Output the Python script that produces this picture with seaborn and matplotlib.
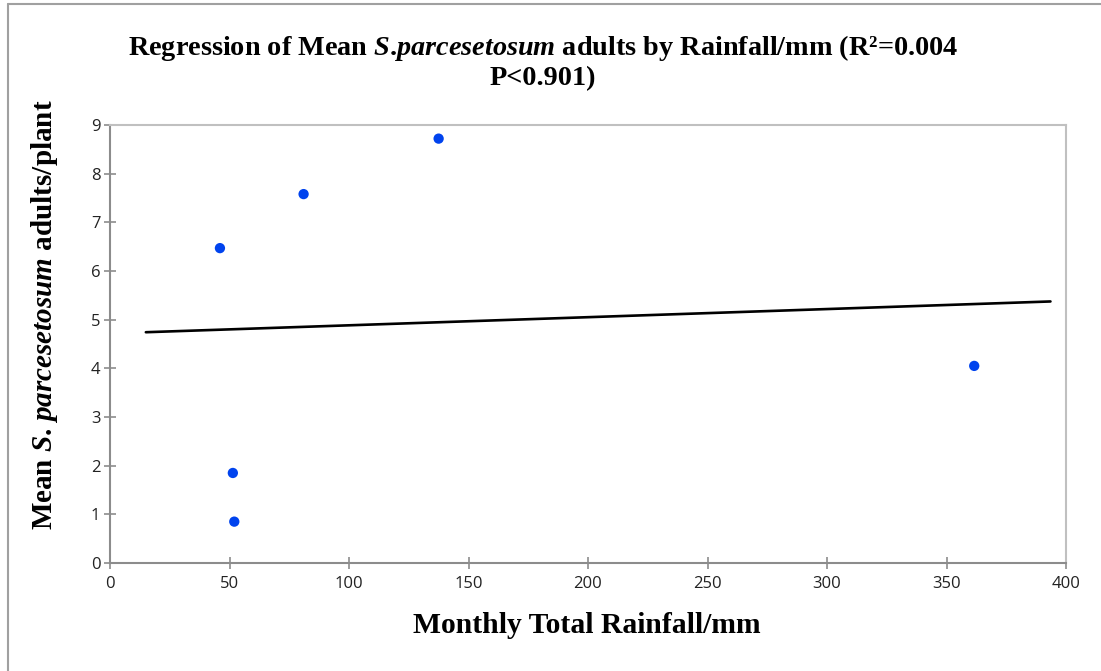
import numpy as np
import pandas as pd
import matplotlib
matplotlib.use("Agg")
import matplotlib.pyplot as plt
import seaborn as sns
from matplotlib.lines import Line2D

# Data
rainfall = [46.0, 51.4, 52.0, 81.0, 137.5, 361.6]
adults = [6.47, 1.85, 0.85, 7.58, 8.72, 4.05]
trend_range = [15.0, 393.5]
x_ticks = [0, 50, 100, 150, 200, 250, 300, 350, 400]
y_ticks = [0, 1, 2, 3, 4, 5, 6, 7, 8, 9]

title_text = ("Regression of Mean $\\mathit{S}$.$\\mathit{parcesetosum}$ adults by Rainfall/mm (R²=0.004\n"
              "P<0.901)")
xlabel_text = "Monthly Total Rainfall/mm"
ylabel_text = "Mean $\\mathit{S}$. $\\mathit{parcesetosum}$ adults/plant"

sns.set_theme(style="white")
plt.rcParams['font.family'] = ['Open Sans', 'DejaVu Sans']
plt.rcParams['mathtext.fontset'] = 'custom'
plt.rcParams['mathtext.it'] = 'Liberation Serif:italic:bold'
plt.rcParams['mathtext.rm'] = 'Liberation Serif:bold'
plt.rcParams['mathtext.bf'] = 'Liberation Serif:bold'

fig = plt.figure(figsize=(11.01, 6.71), dpi=100)
ax = fig.add_axes([110 / 1101, 1 - 563 / 671, (1066 - 110) / 1101, (563 - 125) / 671])

df = pd.DataFrame({"rain": rainfall, "adults": adults})
sns.scatterplot(data=df, x="rain", y="adults", ax=ax, color="#0043EE",
                s=55, edgecolor="none", zorder=3)

slope, intercept = np.polyfit(rainfall, adults, 1)
tx = np.array(trend_range)
trend_df = pd.DataFrame({"x": tx, "y": slope * tx + intercept})
sns.lineplot(data=trend_df, x="x", y="y", ax=ax, color="black", linewidth=1.9, zorder=2)

ax.set_xlim(0, 400)
ax.set_ylim(0, 9)
ax.set_xticks(x_ticks)
ax.set_yticks(y_ticks)
ax.set_xticklabels([str(v) for v in x_ticks])
ax.set_yticklabels([str(v) for v in y_ticks])
ax.tick_params(axis='both', direction='inout', length=8, width=1.2, color='#8c8c8c',
               labelsize=12, labelcolor='#222222')
ax.tick_params(axis='x', pad=5, bottom=True)
ax.tick_params(axis='y', pad=3, left=True)

for side in ['left', 'bottom']:
    ax.spines[side].set_color('#8c8c8c')
    ax.spines[side].set_linewidth(1.5)
for side in ['top', 'right']:
    ax.spines[side].set_color('#c0c0c0')
    ax.spines[side].set_linewidth(1.5)

ax.set_xlabel("")
ax.set_ylabel("")

serif = ['Liberation Serif', 'DejaVu Serif']
fig.text(543 / 1101, 1 - 85 / 671, title_text, ha='center', va='baseline', fontsize=20.3,
         fontweight='bold', family=serif, linespacing=1.15, color='black')
fig.text(587 / 1101, 1 - 633 / 671, xlabel_text, ha='center', va='baseline', fontsize=21.3,
         fontweight='bold', family=serif, color='black')
fig.text(45 / 1101, 1 - 315 / 671, ylabel_text, ha='center', va='center', rotation=90,
         fontsize=21, fontweight='bold', family=serif, color='black')

# outer chart border (top and left visible)
fig.add_artist(Line2D([8 / 1101, 8 / 1101], [0, 1 - 4 / 671], transform=fig.transFigure,
                      color='#a0a0a0', linewidth=1.5))
fig.add_artist(Line2D([8 / 1101, 1], [1 - 4 / 671, 1 - 4 / 671], transform=fig.transFigure,
                      color='#a0a0a0', linewidth=1.5))

fig.savefig("out.png", dpi=100)
